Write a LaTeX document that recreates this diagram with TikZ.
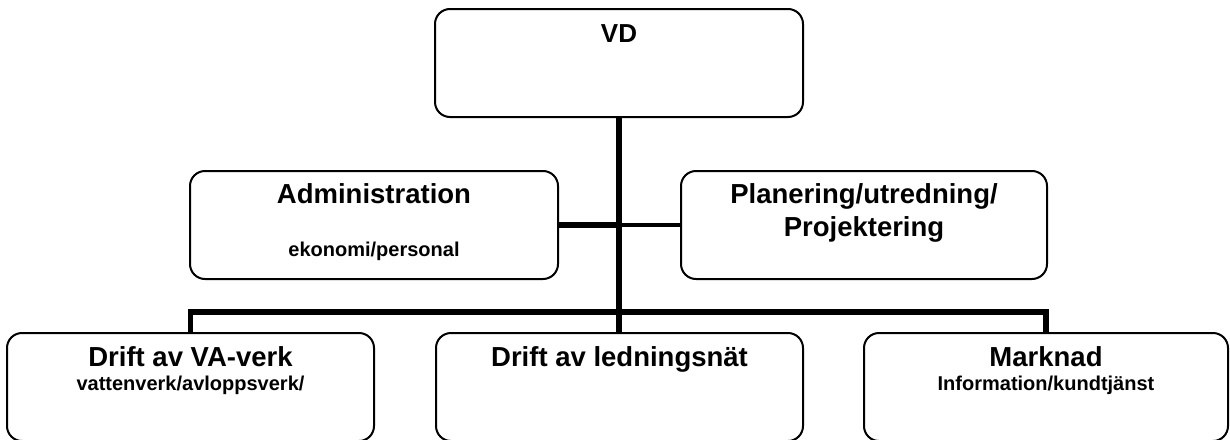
\documentclass[tikz,border=0pt]{standalone}
\usepackage{fontspec}
\setmainfont{Liberation Sans}
\begin{document}
\begin{tikzpicture}[x=1pt,y=-1pt,
  box/.style={draw=black,line width=2pt,rounded corners=15pt,inner sep=0pt},
  conn/.style={draw=black,line width=5.5pt,line join=miter},
  thinconn/.style={draw=black,line width=3.5pt},
  title/.style={anchor=base,inner sep=0pt,font=\bfseries\fontsize{27.5}{31}\selectfont},
  sub/.style={anchor=base,inner sep=0pt,font=\bfseries\fontsize{20}{23}\selectfont}]
\useasboundingbox (0,0) rectangle (1230,439);
% boxes
\node[box,minimum width=368pt,minimum height=108pt] (vd) at (619,63) {};
\node[box,minimum width=368pt,minimum height=108pt] (adm) at (374,225) {};
\node[box,minimum width=366pt,minimum height=108pt] (plan) at (864,225) {};
\node[box,minimum width=367pt,minimum height=108pt] (dva) at (190.5,387) {};
\node[box,minimum width=367pt,minimum height=108pt] (ledn) at (619.5,387) {};
\node[box,minimum width=364pt,minimum height=108pt] (mark) at (1046,387) {};
% texts
\node[title,font=\bfseries\fontsize{26}{30}\selectfont] (tvd) at (619,42) {VD};
\node[title] (tadm) at (374,203) {Administration};
\node[sub] (sadm) at (374,256) {ekonomi/personal};
\node[title] (tplan1) at (864,203) {Planering/utredning/};
\node[title] (tplan2) at (864,236) {Projektering};
\node[title] (tdva) at (190.5,366) {Drift av VA-verk};
\node[sub] (sdva) at (190.5,390) {vattenverk/avloppsverk/};
\node[title] (tledn) at (619.5,366) {Drift av ledningsnät};
\node[title] (tmark) at (1046,366) {Marknad};
\node[sub] (smark) at (1046,390) {Information/kundtjänst};
% connectors
\draw[conn] (vd.south) -- (vd.south |- ledn.north);
\draw[conn] (dva.north) -- ++(0,-20) -| (mark.north);
\draw[conn] (adm.east) -- (adm.east -| vd.south);
\draw[thinconn] (plan.west) -- (plan.west -| vd.south);
\end{tikzpicture}
\end{document}
